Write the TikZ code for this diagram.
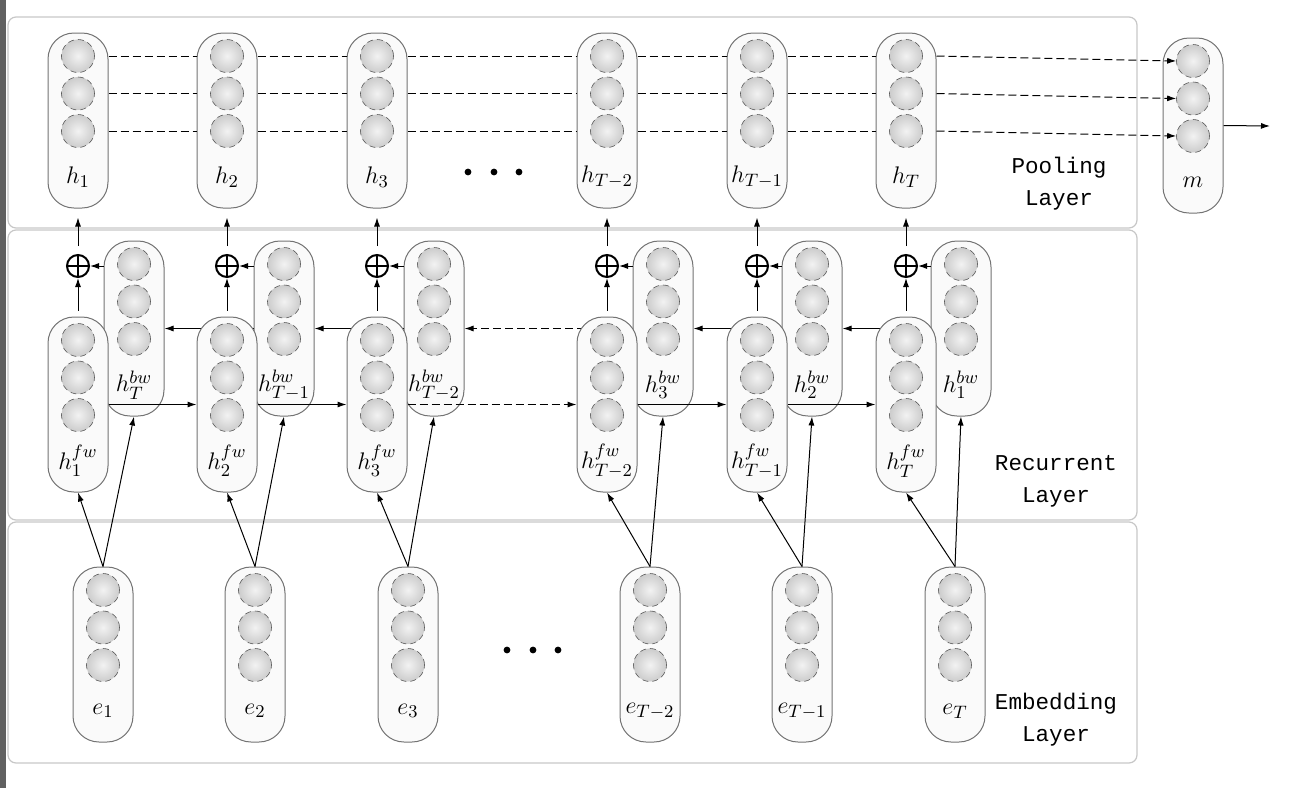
\documentclass[tikz,border=0pt]{standalone}
\usepackage{amsmath}
\usepackage{fontspec}
\setmonofont{Liberation Mono}
\usepackage{tikz}
\usetikzlibrary{positioning, arrows, arrows.meta}
\usetikzlibrary{calc}

% one column of units: name, x, y of the top unit, label
\newcommand{\vcell}[4]{%
  \node[pill] (#1) at (#2,#3+64.5) {};
  \node[unit] (#1-1) at (#2,#3) {};
  \node[unit] (#1-2) at (#2,#3+37.5) {};
  \node[unit] (#1-3) at (#2,#3+75) {};
  \node[lab] (#1-l) at (#2,#3+121) {$#4$};
}

\begin{document}
\begin{tikzpicture}[x=0.5pt, y=-0.5pt,
  pill/.style={draw=black!55, fill=black!2, rounded corners=13pt, minimum width=30pt, minimum height=87.5pt, inner sep=0pt, line width=0.5pt},
  unit/.style={circle, minimum size=16.5pt, inner sep=0pt, draw=black!65, densely dashed, line width=0.3pt, inner color=black!5, outer color=black!20},
  sum/.style={circle, draw, line width=1pt, minimum size=11pt, inner sep=0pt,
    path picture={\draw[line width=1pt] (path picture bounding box.north) -- (path picture bounding box.south) (path picture bounding box.west) -- (path picture bounding box.east);}},
  arr/.style={-{Latex[length=4.5pt,width=3pt]}, line width=0.5pt},
  dsh/.style={dash pattern=on 4pt off 2pt, line width=0.5pt},
  layer/.style={draw=black!22, rounded corners=4pt, line width=0.6pt},
  lab/.style={font=\fontsize{13}{15}\selectfont, inner sep=1pt},
  dot/.style={circle, fill, inner sep=1.2pt},
  txt/.style={font=\ttfamily\fontsize{11.3}{16}\selectfont, align=center}]
\useasboundingbox (0,0) rectangle (1292,788);
\fill[black!62] (0,0) rectangle (6,788);
\draw[layer] (8,17) rectangle (1137,228);
\draw[layer] (8,230) rectangle (1137,520);
\draw[layer] (8,522) rectangle (1137,763);

% pooling layer
\vcell{h1}{78}{56}{h_1}
\vcell{h2}{227}{56}{h_2}
\vcell{h3}{377}{56}{h_3}
\vcell{h4}{607}{56}{h_{T-2}}
\vcell{h5}{757}{56}{h_{T-1}}
\vcell{h6}{906}{56}{h_T}
\vcell{m}{1193}{61}{m}
\foreach \a/\b in {h1/h2,h2/h3,h3/h4,h4/h5,h5/h6}
  \foreach \i in {1,2,3}
    \draw[dsh] (\a-\i -| \a.east) -- (\b-\i -| \b.west);
\foreach \i in {1,2,3}
  \draw[dsh, arr] (h6-\i -| h6.east) -- (m-\i.west);
\coordinate (out) at (1270,126);
\draw[arr] (m.east) -- (out);
\node[dot] (d1) at (468,172) {};
\node[dot] (d2) at (494,172) {};
\node[dot] (d3) at (519,172) {};
\node[txt] (tp) at (1059,184) {Pooling\\Layer};

% recurrent layer
\vcell{b1}{134}{264}{h_T^{bw}}
\vcell{b2}{284}{264}{h_{T-1}^{bw}}
\vcell{b3}{434}{264}{h_{T-2}^{bw}}
\vcell{b4}{663}{264}{h_3^{bw}}
\vcell{b5}{812}{264}{h_2^{bw}}
\vcell{b6}{961}{264}{h_1^{bw}}
\draw[arr] (b2.west) -- (b1.east);
\draw[arr] (b3.west) -- (b2.east);
\draw[arr, dsh] (b4.west) -- (b3.east);
\draw[arr] (b5.west) -- (b4.east);
\draw[arr] (b6.west) -- (b5.east);
\vcell{f1}{78}{340}{h_1^{fw}}
\vcell{f2}{227}{340}{h_2^{fw}}
\vcell{f3}{377}{340}{h_3^{fw}}
\vcell{f4}{607}{340}{h_{T-2}^{fw}}
\vcell{f5}{757}{340}{h_{T-1}^{fw}}
\vcell{f6}{906}{340}{h_T^{fw}}
\draw[arr] (f1.east) -- (f2.west);
\draw[arr] (f2.east) -- (f3.west);
\draw[arr, dsh] (f3.east) -- (f4.west);
\draw[arr] (f4.east) -- (f5.west);
\draw[arr] (f5.east) -- (f6.west);
\foreach \k/\x in {1/78,2/227,3/377,4/607,5/757,6/906} {
  \node[sum] (s\k) at (\x,266) {};
  \draw[arr, shorten <=3pt] (f\k.north) -- (s\k.south);
  \draw[arr] (b\k.west |- s\k) -- (s\k.east);
  \draw[arr, shorten <=4pt, shorten >=4.5pt] (s\k.north) -- (h\k.south);
}
\node[txt] (tr) at (1056,481) {Recurrent\\Layer};

% embedding layer
\vcell{e1}{103}{590}{e_1}
\vcell{e2}{255}{590}{e_2}
\vcell{e3}{408}{590}{e_3}
\vcell{e4}{650}{590}{e_{T-2}}
\vcell{e5}{802}{590}{e_{T-1}}
\vcell{e6}{955}{590}{e_T}
\foreach \k in {1,...,6} {
  \draw[arr] (e\k.north) -- (f\k.south);
  \draw[arr] (e\k.north) -- (b\k.south);
}
\node[dot] (d4) at (507,650) {};
\node[dot] (d5) at (533,650) {};
\node[dot] (d6) at (558,650) {};
\node[txt] (te) at (1056,720) {Embedding\\Layer};
\end{tikzpicture}
\end{document}
